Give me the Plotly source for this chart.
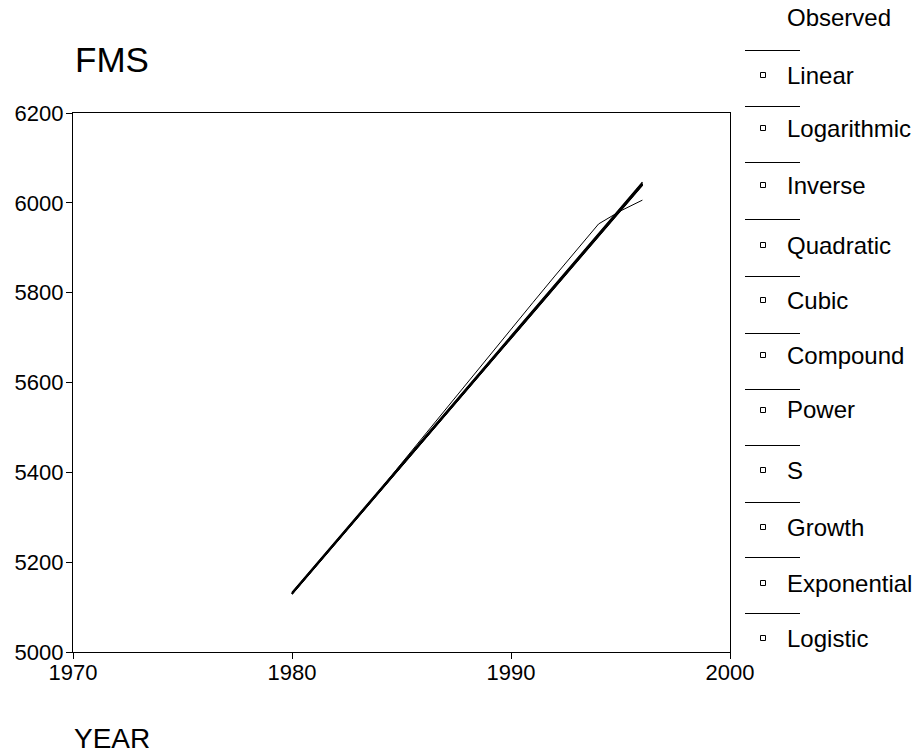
import plotly.graph_objects as go

# Observed FMS series by year
years = list(range(1980, 1997))
fms_observed = [5131, 5188, 5245, 5302, 5360, 5420, 5480, 5540, 5600,
                5659, 5718, 5778, 5837, 5896, 5953, 5982, 6006]

# Fitted curves (values at the ends of the fitted range)
model_names = ["Linear", "Logarithmic", "Inverse", "Quadratic", "Cubic",
               "Compound", "Power", "S", "Growth", "Exponential", "Logistic"]
fit_years = [1980, 1996]
fit_start = [5131, 5130, 5129, 5132, 5133, 5130, 5129, 5129, 5130, 5130, 5131]
fit_end = [6041, 6040, 6039, 6045, 6046, 6042, 6041, 6040, 6042, 6042, 6041]

x_ticks = [1970, 1980, 1990, 2000]
y_ticks = [5000, 5200, 5400, 5600, 5800, 6000, 6200]

W, H = 914, 755
L, R, T, B = 73, 730, 113, 652
FONT = "Liberation Sans, Arial, sans-serif"


def px_x(px):
    return (px - L) / (R - L)


def px_y(py):
    return (B - py) / (B - T)


fig = go.Figure()

fig.add_trace(go.Scatter(x=years, y=fms_observed, mode="lines",
                         line=dict(color="black", width=1),
                         name="Observed", showlegend=False))
for name, y0, y1 in zip(model_names, fit_start, fit_end):
    fig.add_trace(go.Scatter(x=fit_years, y=[y0, y1], mode="lines",
                             line=dict(color="black", width=1.1),
                             name=name, showlegend=False))

shapes = []
annotations = []

# Custom legend: a line sample, then a small square with the model name
legend_line_y = [50, 106, 162, 219, 276, 333, 389, 445, 502, 557, 613]
legend_label_y = [75, 128, 185, 245, 300, 355, 410, 470, 527, 583, 638]

annotations.append(dict(text="Observed", x=px_x(785), y=px_y(18),
                        xref="paper", yref="paper", xanchor="left",
                        yanchor="middle", showarrow=False,
                        font=dict(size=24, color="black", family=FONT)))
for name, ly, ty in zip(model_names, legend_line_y, legend_label_y):
    shapes.append(dict(type="line", xref="paper", yref="paper",
                       x0=px_x(745), x1=px_x(800),
                       y0=px_y(ly + 0.5), y1=px_y(ly + 0.5),
                       line=dict(color="black", width=1)))
    shapes.append(dict(type="rect", xref="paper", yref="paper",
                       x0=px_x(760.5), x1=px_x(765.5),
                       y0=px_y(ty - 2.5), y1=px_y(ty + 2.5),
                       line=dict(color="black", width=1),
                       fillcolor="white"))
    annotations.append(dict(text=name, x=px_x(785), y=px_y(ty),
                            xref="paper", yref="paper", xanchor="left",
                            yanchor="middle", showarrow=False,
                            font=dict(size=24, color="black", family=FONT)))

# Variable names
annotations.append(dict(text="FMS", x=px_x(73), y=px_y(60),
                        xref="paper", yref="paper", xanchor="left",
                        yanchor="middle", showarrow=False,
                        font=dict(size=35, color="black", family=FONT)))
annotations.append(dict(text="YEAR", x=px_x(72), y=px_y(738),
                        xref="paper", yref="paper", xanchor="left",
                        yanchor="middle", showarrow=False,
                        font=dict(size=28, color="black", family=FONT)))

fig.update_layout(
    width=W, height=H, autosize=False,
    margin=dict(l=L, r=W - R, t=T, b=H - B, pad=0),
    paper_bgcolor="white", plot_bgcolor="white",
    shapes=shapes, annotations=annotations,
    font=dict(family=FONT, color="black"),
    showlegend=False,
)
fig.update_xaxes(range=[1970, 2000], tickvals=x_ticks,
                 ticktext=[str(v) for v in x_ticks],
                 showgrid=False, zeroline=False,
                 showline=True, linecolor="black", linewidth=1.2, mirror=True,
                 ticks="outside", ticklen=6, tickcolor="black", tickwidth=1,
                 ticklabelstandoff=-6,
                 tickfont=dict(size=22, color="black", family=FONT))
fig.update_yaxes(range=[5000, 6200], tickvals=y_ticks,
                 ticktext=[str(v) for v in y_ticks],
                 showgrid=False, zeroline=False,
                 showline=True, linecolor="black", linewidth=1.2, mirror=True,
                 ticks="outside", ticklen=6, tickcolor="black", tickwidth=1,
                 ticklabelstandoff=-2,
                 tickfont=dict(size=22, color="black", family=FONT))

fig.write_html("out.html")
